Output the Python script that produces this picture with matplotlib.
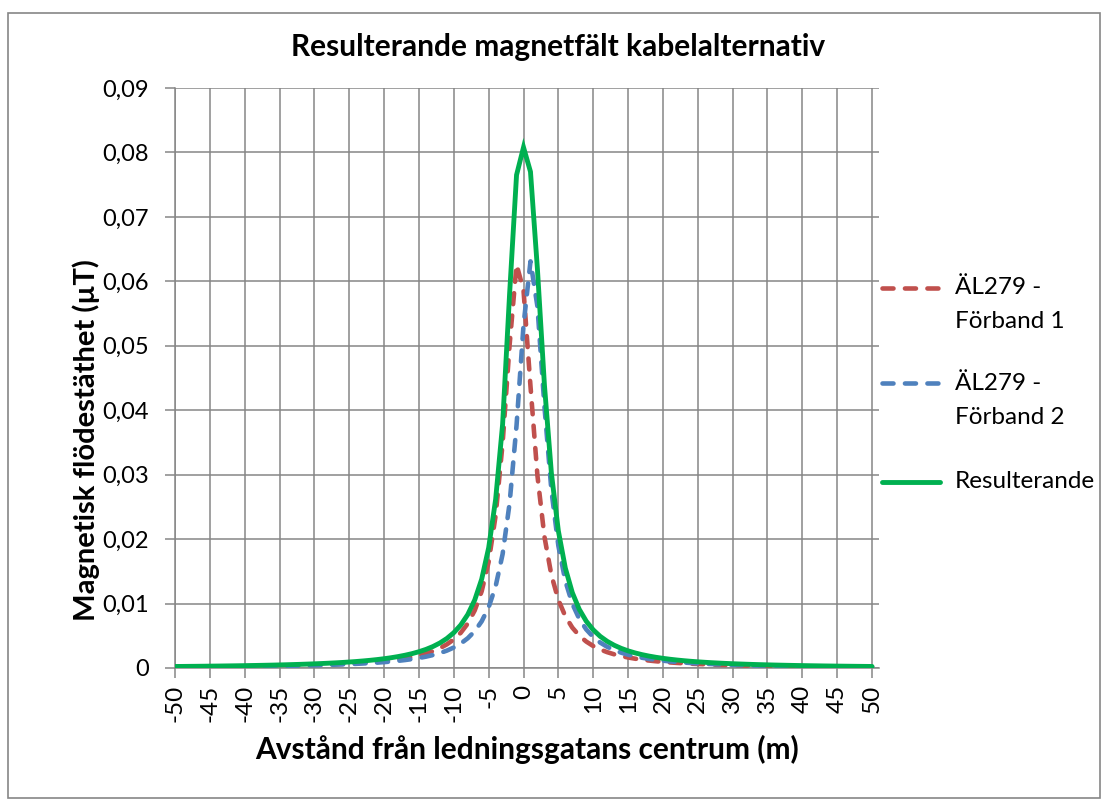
import matplotlib
matplotlib.use('Agg')
import matplotlib.pyplot as plt
from matplotlib.lines import Line2D
from matplotlib.patches import Rectangle

plt.rcParams['font.family'] = ['Lato', 'DejaVu Sans']

# distance from the centre of the line corridor (m), one point per metre
distance = list(range(-50, 51))

# ÄL279 - Förband 1 (µT)
forband_1 = [
    0.000169, 0.000176, 0.000184, 0.000192, 0.000200, 0.000210, 0.000219, 0.000230, 0.000241, 0.000253,
    0.000266, 0.000280, 0.000295, 0.000312, 0.000329, 0.000349, 0.000370, 0.000393, 0.000418, 0.000446,
    0.000477, 0.000511, 0.000549, 0.000591, 0.000638, 0.000691, 0.000751, 0.000819, 0.000897, 0.000986,
    0.001089, 0.001209, 0.001350, 0.001516, 0.001715, 0.001956, 0.002250, 0.002615, 0.003075, 0.003665,
    0.004437, 0.005473, 0.006901, 0.008933, 0.011914, 0.016482, 0.023664, 0.034856, 0.050085, 0.062600,
    0.058622,
    0.043718, 0.029820, 0.020390, 0.014410, 0.010571, 0.008023, 0.006268, 0.005018, 0.004101, 0.003410,
    0.002877, 0.002459, 0.002125, 0.001854, 0.001631, 0.001446, 0.001290, 0.001158, 0.001046, 0.000949,
    0.000864, 0.000791, 0.000726, 0.000669, 0.000619, 0.000574, 0.000533, 0.000497, 0.000464, 0.000435,
    0.000408, 0.000384, 0.000361, 0.000341, 0.000322, 0.000305, 0.000289, 0.000274, 0.000261, 0.000248,
    0.000236, 0.000226, 0.000215, 0.000206, 0.000197, 0.000189, 0.000181, 0.000174, 0.000167, 0.000160,
]

# ÄL279 - Förband 2 (µT)
forband_2 = [
    0.000158, 0.000164, 0.000171, 0.000178, 0.000185, 0.000194, 0.000202, 0.000211, 0.000221, 0.000232,
    0.000243, 0.000256, 0.000269, 0.000283, 0.000298, 0.000315, 0.000333, 0.000353, 0.000374, 0.000398,
    0.000424, 0.000452, 0.000484, 0.000518, 0.000557, 0.000600, 0.000648, 0.000703, 0.000764, 0.000834,
    0.000913, 0.001005, 0.001111, 0.001235, 0.001380, 0.001553, 0.001759, 0.002009, 0.002316, 0.002697,
    0.003180, 0.003800, 0.004618, 0.005719, 0.007245, 0.009431, 0.012675, 0.017667, 0.025538, 0.037655,
    0.053183,
    0.063100, 0.056073, 0.040620, 0.027587, 0.018966, 0.013505, 0.009978, 0.007620, 0.005985, 0.004812,
    0.003947, 0.003292, 0.002785, 0.002386, 0.002066, 0.001806, 0.001591, 0.001413, 0.001262, 0.001135,
    0.001025, 0.000931, 0.000849, 0.000777, 0.000714, 0.000659, 0.000609, 0.000565, 0.000526, 0.000490,
    0.000458, 0.000429, 0.000403, 0.000379, 0.000357, 0.000337, 0.000319, 0.000302, 0.000286, 0.000272,
    0.000258, 0.000246, 0.000234, 0.000223, 0.000213, 0.000204, 0.000195, 0.000187, 0.000179, 0.000172,
]

# Resulterande (µT)
resulterande = [
    0.000235, 0.000245, 0.000256, 0.000266, 0.000277, 0.000291, 0.000303, 0.000318, 0.000333, 0.000349,
    0.000366, 0.000386, 0.000406, 0.000428, 0.000451, 0.000478, 0.000506, 0.000537, 0.000570, 0.000608,
    0.000649, 0.000693, 0.000744, 0.000798, 0.000860, 0.000930, 0.001007, 0.001096, 0.001196, 0.001310,
    0.001441, 0.001594, 0.001772, 0.001981, 0.002228, 0.002526, 0.002886, 0.003329, 0.003882, 0.004581,
    0.005484, 0.006677, 0.008294, 0.010549, 0.013794, 0.018657, 0.026164, 0.037817, 0.058000, 0.076500,
    0.080800,
    0.077000, 0.061843, 0.043927, 0.030238, 0.021267, 0.015500, 0.011697, 0.009099, 0.007262, 0.005920,
    0.004913, 0.004141, 0.003535, 0.003053, 0.002662, 0.002341, 0.002074, 0.001851, 0.001662, 0.001500,
    0.001360, 0.001240, 0.001134, 0.001041, 0.000960, 0.000888, 0.000822, 0.000765, 0.000713, 0.000666,
    0.000624, 0.000585, 0.000550, 0.000518, 0.000489, 0.000462, 0.000438, 0.000415, 0.000394, 0.000374,
    0.000356, 0.000340, 0.000323, 0.000309, 0.000295, 0.000283, 0.000271, 0.000260, 0.000249, 0.000239,
]

series_labels = ['ÄL279 -\nFörband 1', 'ÄL279 -\nFörband 2', 'Resulterande']
series_colors = ['#C0504D', '#4F81BD', '#00B050']

y_ticks = [0, 0.01, 0.02, 0.03, 0.04, 0.05, 0.06, 0.07, 0.08, 0.09]
y_tick_labels = ['0', '0,01', '0,02', '0,03', '0,04', '0,05', '0,06', '0,07', '0,08', '0,09']
x_ticks = list(range(-50, 51, 5))

W, H = 1102, 801
fig = plt.figure(figsize=(W / 100, H / 100), dpi=100)
ax = fig.add_axes([175 / W, 1 - 668 / H, (879 - 175) / W, (668 - 88) / H])

grid_color = '#868686'

# outer chart border
fig.add_artist(Rectangle((8 / W, 1 - 798 / H), (1100 - 8) / W, (798 - 13) / H,
                         transform=fig.transFigure, fill=False, edgecolor=grid_color, linewidth=1.2))

dash_kw = dict(linewidth=3.3, dashes=(2.4, 2.5), dash_capstyle='round', solid_capstyle='round')
ax.plot(distance, forband_1, color=series_colors[0], zorder=3, **dash_kw)
ax.plot(distance, forband_2, color=series_colors[1], zorder=3, **dash_kw)
ax.plot(distance, resulterande, color=series_colors[2], linewidth=3.5,
        solid_joinstyle='miter', solid_capstyle='round', zorder=4)

ax.set_xlim(-50, 51)
ax.set_ylim(0, 0.09)

ax.set_yticks(y_ticks)
ax.set_yticklabels(y_tick_labels, fontsize=17)
ax.set_xticks(x_ticks)
ax.set_xticklabels([str(v) for v in x_ticks], rotation=90, fontsize=17.5)

ax.tick_params(axis='y', direction='out', length=7, width=1.1, color=grid_color, pad=12)
ax.tick_params(axis='x', direction='out', length=7, width=1.1, color=grid_color, pad=5)

ax.grid(True, color=grid_color, linewidth=1.1)
ax.set_axisbelow(True)
for side in ['top', 'right']:
    ax.spines[side].set_visible(False)
for side in ['left', 'bottom']:
    ax.spines[side].set_color(grid_color)
    ax.spines[side].set_linewidth(1.1)

fig.text(558 / W, 1 - 47 / H, 'Resulterande magnetfält kabelalternativ',
         ha='center', va='center', fontsize=21.5, fontweight='bold')
fig.text(527 / W, 1 - 749 / H, 'Avstånd från ledningsgatans centrum (m)',
         ha='center', va='center', fontsize=21.5, fontweight='bold')
fig.text(86 / W, 1 - 440 / H, 'Magnetisk flödestäthet (µT)',
         ha='center', va='center', rotation=90, fontsize=21, fontweight='bold')

# legend drawn by hand so that the key sits on the first text line
legend_y = [288, 383, 482]
for i, (label, color) in enumerate(zip(series_labels, series_colors)):
    y = 1 - legend_y[i] / H
    if i < 2:
        key = Line2D([882 / W, 940 / W], [y, y], transform=fig.transFigure, color=color, **dash_kw)
    else:
        key = Line2D([882 / W, 940 / W], [y, y], transform=fig.transFigure, color=color,
                     linewidth=3.5, solid_capstyle='round')
    fig.add_artist(key)
    for j, part in enumerate(label.split('\n')):
        fig.text(955 / W, 1 - (legend_y[i] + 34 * j) / H, part,
                 ha='left', va='center', fontsize=17.5)

fig.savefig('out.png', dpi=100)
